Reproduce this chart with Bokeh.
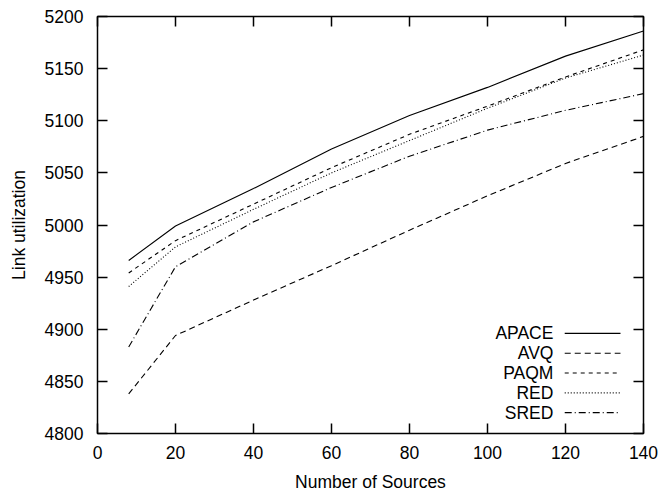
from bokeh.plotting import figure
from bokeh.models import LinearAxis, Label, Arrow, FixedTicker, Range1d
from bokeh.embed import file_html
from bokeh.resources import INLINE

# ---- data ----
sources = [8, 20, 40, 60, 80, 100, 120, 140]
apace = [4966, 4999, 5035, 5073, 5105, 5132, 5162, 5186]
avq = [4838, 4894, 4928, 4961, 4995, 5028, 5059, 5085]
paqm = [4954, 4985, 5020, 5055, 5087, 5114, 5142, 5168]
red = [4941, 4979, 5015, 5050, 5081, 5112, 5141, 5163]
sred = [4883, 4960, 5003, 5036, 5066, 5091, 5110, 5126]

series_names = ["APACE", "AVQ", "PAQM", "RED", "SRED"]
series_vals = [apace, avq, paqm, red, sred]
dashes = ["solid", "6 4", "4 4", "1 2", "7 3 1 3"]

x_ticks = [0, 20, 40, 60, 80, 100, 120, 140]
y_ticks = [4800, 4850, 4900, 4950, 5000, 5050, 5100, 5150, 5200]

FONT = "Liberation Sans"
FS = "17.5px"

p = figure(width=660, height=494, frame_width=546, frame_height=417,
           x_range=Range1d(0, 140), y_range=Range1d(4800, 5200),
           output_backend="svg", toolbar_location=None,
           min_border_left=97, min_border_right=17, min_border_top=16, min_border_bottom=61,
           x_axis_label="Number of Sources", y_axis_label="Link utilization")
p.background_fill_color = "white"
p.border_fill_color = "white"
p.grid.visible = False
p.outline_line_color = "black"
p.outline_line_width = 1.5

for ax in p.xaxis + p.yaxis:
    ax.axis_line_color = None
    ax.major_tick_in = 10
    ax.major_tick_out = 0
    ax.major_tick_line_width = 1.5
    ax.minor_tick_line_color = None
    ax.major_label_text_font = FONT
    ax.major_label_text_font_size = FS
    ax.major_label_text_color = "black"
    ax.axis_label_text_font = FONT
    ax.axis_label_text_font_size = FS
    ax.axis_label_text_font_style = "normal"
    ax.axis_label_text_color = "black"

p.xaxis.ticker = FixedTicker(ticks=x_ticks)
p.yaxis.ticker = FixedTicker(ticks=y_ticks)
p.xaxis.major_label_standoff = 12
p.xaxis.axis_label_standoff = 10
p.yaxis.major_label_standoff = 14
p.yaxis.axis_label_standoff = 13

# mirrored ticks on top and right
for side, ticks in (("above", x_ticks), ("right", y_ticks)):
    ax = LinearAxis(ticker=FixedTicker(ticks=ticks))
    ax.axis_line_color = None
    ax.major_tick_in = 10
    ax.major_tick_out = 0
    ax.major_tick_line_width = 1.5
    ax.minor_tick_line_color = None
    ax.major_label_text_font_size = "0px"
    ax.major_label_text_color = None
    ax.major_label_standoff = 0
    p.add_layout(ax, side)

for name, vals, dash in zip(series_names, series_vals, dashes):
    p.line(sources, vals, line_color="black", line_width=1.1, line_dash=dash)

# legend: text right-aligned, sample line to the right (gnuplot style)
leg_text_x = 116.9
leg_line_x0, leg_line_x1 = 119.8, 134.1
leg_y0 = 4896
leg_dy = 19.0
for i, (name, dash) in enumerate(zip(series_names, dashes)):
    yy = leg_y0 - i * leg_dy
    p.add_layout(Label(x=leg_text_x, y=yy, text=name, text_align="right",
                       text_baseline="middle", text_font=FONT,
                       text_font_size=FS, text_color="black"))
    p.add_layout(Arrow(end=None, x_start=leg_line_x0, y_start=yy,
                       x_end=leg_line_x1, y_end=yy, line_color="black",
                       line_width=1.1, line_dash=dash))

open("out.html", "w").write(file_html(p, INLINE))
